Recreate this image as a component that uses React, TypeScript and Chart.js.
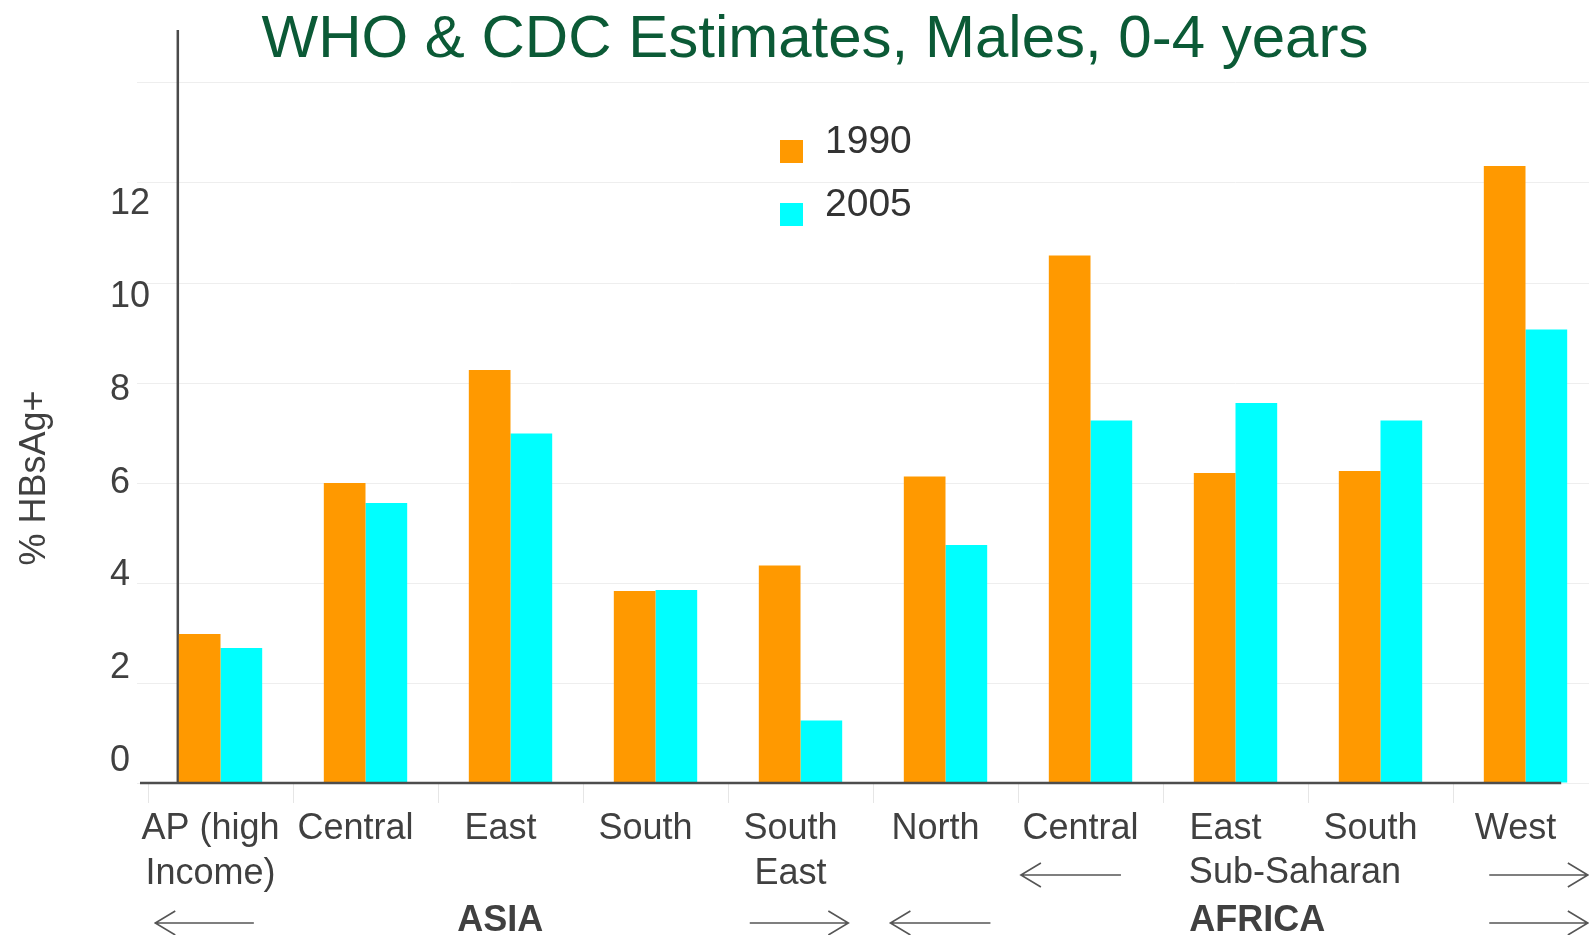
import React, { useEffect, useRef } from "react";
import { Chart, registerables } from "chart.js";

Chart.register(...registerables);

// ---------- data ----------
const categories: (string | string[])[] = [
  ["AP (high", "Income)"],
  "Central",
  "East",
  "South",
  ["South", "East"],
  "North",
  "Central",
  "East",
  "South",
  "West",
];
const values1990 = [2.98, 6.0, 8.26, 3.84, 4.35, 6.13, 10.55, 6.2, 6.24, 12.34];
const values2005 = [2.7, 5.6, 6.99, 3.86, 1.25, 4.76, 7.25, 7.6, 7.25, 9.07];
const seriesLabels = ["1990", "2005"];
const seriesColors = ["#FF9900", "#00FFFF"];
const gridTickValues = [0, 2, 4, 6, 8, 10, 12, 14];
const labelTickValues = [0, 2, 4, 6, 8, 10, 12];
const titleText = "WHO & CDC Estimates, Males, 0-4 years";
const yAxisTitle = "% HBsAg+";
// group annotations: position given as (fractional) category index
const groupTexts = [
  { text: "Sub-Saharan", at: 7.41, row: 1, bold: false },
  { text: "ASIA", at: 1.93, row: 2, bold: true },
  { text: "AFRICA", at: 7.15, row: 2, bold: true },
];
const groupArrows = [
  { from: 5.52, to: 6.21, row: 1, dir: -1 },
  { from: 8.75, to: 9.43, row: 1, dir: 1 },
  { from: -0.45, to: 0.23, row: 2, dir: -1 },
  { from: 3.65, to: 4.33, row: 2, dir: 1 },
  { from: 4.62, to: 5.31, row: 2, dir: -1 },
  { from: 8.75, to: 9.43, row: 2, dir: 1 },
];

const FONT = "'Liberation Sans', Arial, Helvetica, sans-serif";
const TEXT_COLOR = "#404040";

const decorPlugin = {
  id: "decor",
  beforeDatasetsDraw(chart: any) {
    const { ctx, chartArea } = chart;
    const bar = chart.getDatasetMeta(0).data[0];
    const axisX = bar.x - bar.width / 2 - 1;
    ctx.save();
    ctx.strokeStyle = "#4a4a4a";
    ctx.lineWidth = 2.5;
    ctx.beginPath();
    ctx.moveTo(axisX, chartArea.top - 3);
    ctx.lineTo(axisX, chartArea.bottom);
    ctx.stroke();
    ctx.restore();
  },
  afterDatasetsDraw(chart: any) {
    const { ctx, chartArea } = chart;
    const meta = chart.getDatasetMeta(1);
    const last = meta.data[meta.data.length - 1];
    const y0 = chart.scales.y.getPixelForValue(0);
    ctx.save();
    ctx.strokeStyle = "#4d4d4d";
    ctx.lineWidth = 2.5;
    ctx.beginPath();
    ctx.moveTo(chartArea.left - 8, y0);
    ctx.lineTo(last.x + last.width / 2 - 6, y0);
    ctx.stroke();
    ctx.restore();
  },
  afterDraw(chart: any) {
    const { ctx, chartArea } = chart;
    const xs = chart.scales.x;
    ctx.save();

    // title
    ctx.fillStyle = "#0b5a36";
    ctx.font = `60px ${FONT}`;
    ctx.textAlign = "center";
    ctx.textBaseline = "alphabetic";
    ctx.fillText(titleText, 815, 57);

    // y axis title
    ctx.save();
    ctx.translate(35, 478);
    ctx.rotate(-Math.PI / 2);
    ctx.fillStyle = TEXT_COLOR;
    ctx.font = `36px ${FONT}`;
    ctx.textAlign = "center";
    ctx.textBaseline = "middle";
    ctx.fillText(yAxisTitle, 0, 0);
    ctx.restore();

    // legend
    chart.data.datasets.forEach((ds: any, i: number) => {
      const top = 140 + i * 63;
      ctx.fillStyle = ds.backgroundColor;
      ctx.fillRect(780, top, 23, 23);
      ctx.fillStyle = "#333333";
      ctx.font = `39px ${FONT}`;
      ctx.textAlign = "left";
      ctx.textBaseline = "alphabetic";
      ctx.fillText(ds.label, 825, top + 13);
    });

    // group texts
    const rowY = (row: number) => chartArea.bottom + (row === 1 ? 90 : 138);
    groupTexts.forEach((g) => {
      ctx.fillStyle = TEXT_COLOR;
      ctx.font = `${g.bold ? "bold " : ""}36px ${FONT}`;
      ctx.textAlign = "center";
      ctx.textBaseline = "middle";
      ctx.fillText(g.text, xs.getPixelForValue(g.at), rowY(g.row));
    });

    // arrows
    ctx.strokeStyle = "#555555";
    ctx.lineWidth = 1.6;
    groupArrows.forEach((a) => {
      const x1 = xs.getPixelForValue(a.from);
      const x2 = xs.getPixelForValue(a.to);
      const y = rowY(a.row) + 2;
      ctx.beginPath();
      ctx.moveTo(x1, y);
      ctx.lineTo(x2, y);
      const tip = a.dir < 0 ? x1 : x2;
      const back = a.dir < 0 ? tip + 20 : tip - 20;
      ctx.moveTo(back, y - 12);
      ctx.lineTo(tip, y);
      ctx.lineTo(back, y + 12);
      ctx.stroke();
    });

    ctx.restore();
  },
};

export default function App() {
  const canvasRef = useRef<HTMLCanvasElement | null>(null);

  useEffect(() => {
    const canvas = canvasRef.current;
    if (!canvas) return;
    const chart = new Chart(canvas, {
      type: "bar",
      data: {
        labels: categories,
        datasets: [
          {
            label: seriesLabels[0],
            data: values1990,
            backgroundColor: seriesColors[0],
            barPercentage: 1.0,
            categoryPercentage: 0.575,
          },
          {
            label: seriesLabels[1],
            data: values2005,
            backgroundColor: seriesColors[1],
            barPercentage: 1.0,
            categoryPercentage: 0.575,
          },
        ],
      },
      options: {
        animation: false,
        responsive: false,
        devicePixelRatio: 1,
        layout: { padding: { left: 137, top: 33, right: 22, bottom: 0 } },
        plugins: {
          legend: { display: false },
          title: { display: false },
          tooltip: { enabled: false },
        },
        scales: {
          x: {
            type: "category",
            offset: true,
            border: { display: false },
            grid: {
              display: true,
              drawOnChartArea: false,
              drawTicks: true,
              tickLength: 20,
              color: "#e6e6e6",
            },
            ticks: {
              color: TEXT_COLOR,
              font: { family: FONT, size: 36, lineHeight: 1.25 },
              padding: 4,
              labelOffset: -10,
              maxRotation: 0,
              autoSkip: false,
            },
            afterFit: (scale: any) => {
              scale.height = 152;
            },
          },
          y: {
            type: "linear",
            position: "left",
            weight: 0,
            min: 0,
            max: 15,
            border: { display: false },
            grid: {
              color: "#eeeeee",
              lineWidth: 1,
              drawTicks: true,
              tickLength: 11,
            },
            ticks: { display: false },
            afterBuildTicks: (scale: any) => {
              scale.ticks = gridTickValues.map((v) => ({ value: v }));
            },
            afterFit: (scale: any) => {
              scale.width = 11;
            },
          },
          yLabels: {
            type: "linear",
            position: "left",
            weight: 1,
            min: -0.474,
            max: 15.69,
            border: { display: false },
            grid: { display: false, drawTicks: false },
            ticks: {
              color: TEXT_COLOR,
              font: { family: FONT, size: 36 },
              mirror: true,
              crossAlign: "near",
              padding: -27,
            },
            afterBuildTicks: (scale: any) => {
              scale.ticks = labelTickValues.map((v) => ({ value: v }));
            },
            afterFit: (scale: any) => {
              scale.width = 0;
            },
          },
        },
      } as any,
      plugins: [decorPlugin],
    });
    return () => chart.destroy();
  }, []);

  return (
    <div
      style={{
        position: "fixed",
        left: 0,
        top: 0,
        width: 1589,
        height: 935,
        overflow: "hidden",
        background: "#ffffff",
      }}
    >
      <canvas ref={canvasRef} width={1620} height={935} style={{ display: "block" }} />
    </div>
  );
}
